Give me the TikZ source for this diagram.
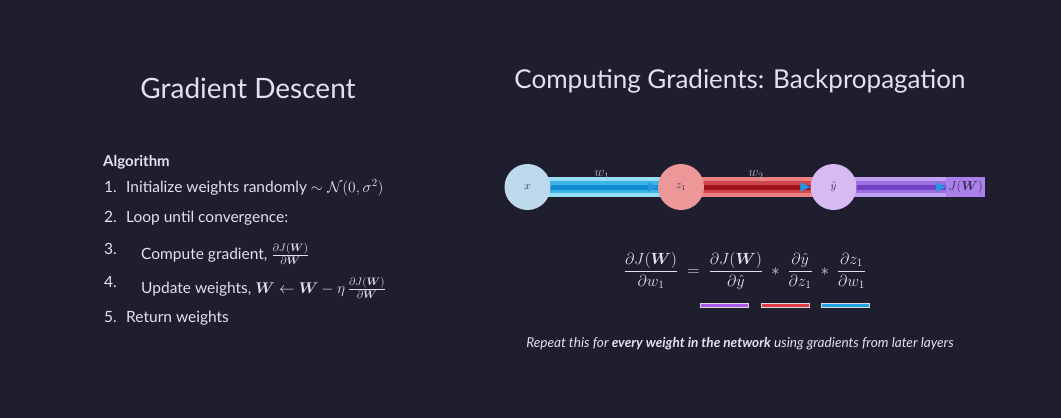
\RequirePackage{fix-cm}
\documentclass[tikz,border=0pt]{standalone}
\usepackage{amsmath,amssymb,bm}
\usepackage{fontspec}
\setmainfont{Lato}
\usetikzlibrary{arrows.meta}

\definecolor{bgnavy}{RGB}{30,30,46}
\definecolor{txtgray}{RGB}{226,226,236}
\definecolor{labgray}{RGB}{175,175,195}
\definecolor{inkdark}{RGB}{55,45,75}
\definecolor{xfill}{RGB}{190,216,236}
\definecolor{zfill}{RGB}{236,152,152}
\definecolor{yfill}{RGB}{216,186,242}
\definecolor{tipblue}{RGB}{40,150,230}
\definecolor{barpurple}{RGB}{170,90,230}
\definecolor{barred}{RGB}{225,60,70}
\definecolor{barblue}{RGB}{30,160,225}
% band tones: light edge, mid, dark core
\definecolor{blueedge}{RGB}{150,222,246}
\definecolor{bluemid}{RGB}{60,180,230}
\definecolor{bluecore}{RGB}{15,140,208}
\definecolor{rededge}{RGB}{236,128,128}
\definecolor{redmid}{RGB}{205,70,75}
\definecolor{redcore}{RGB}{160,18,30}
\definecolor{purpedge}{RGB}{192,160,242}
\definecolor{purpmid}{RGB}{155,110,225}
\definecolor{purpcore}{RGB}{115,65,198}
\definecolor{outfill}{RGB}{172,128,234}

\pgfdeclarelayer{background}
\pgfsetlayers{background,main}

\tikzset{
  neuron/.style={circle, minimum size=46pt, inner sep=0pt, text=inkdark, font=\fontsize{11}{13}\selectfont},
  title/.style={text=txtgray, font=\fontsize{26}{30}\selectfont},
  item/.style={anchor=base west, text=txtgray, inner sep=0pt, font=\fontsize{15.5}{18}\selectfont},
  wlabel/.style={text=labgray, font=\fontsize{14}{16}\selectfont},
  flow/.style={line width=1.2pt, -{Triangle[length=10pt, width=9pt, fill=tipblue, color=tipblue]}},
  ubar/.style={draw=white!85!black, line width=0.5pt}
}

% band between two points: #1 edge, #2 mid, #3 core
\newcommand{\band}[5]{%
  \fill[#1] ([yshift=-10pt]#4) rectangle ([yshift=10pt]#5);
  \fill[#2] ([yshift=-6pt]#4) rectangle ([yshift=6pt]#5);
  \fill[#3] ([yshift=-2.5pt]#4) rectangle ([yshift=2.5pt]#5);
}

\begin{document}
\begin{tikzpicture}[x=1pt, y=-1pt]
  \begin{pgfonlayer}{background}
    \fill[bgnavy] (0,0) rectangle (1061,418);
  \end{pgfonlayer}
  \useasboundingbox (0,0) rectangle (1061,418);

  % titles
  \node[title, font=\fontsize{28}{32}\selectfont] (gdtitle) at (248,88) {Gradient Descent};
  \node[title] (bptitle) at (740,81) {Computing Gradients: Backpropagation};

  % algorithm
  \node[item, font=\bfseries\fontsize{15}{18}\selectfont] (algo) at (103,166) {Algorithm};
  \node[item] (n1) at (104,192) {1.};
  \node[item] (t1) at (126,192) {Initialize weights randomly $\sim\mathcal{N}(0,\sigma^2)$};
  \node[item] (n2) at (104,222.5) {2.};
  \node[item] (t2) at (126,222.5) {Loop until convergence:};
  \node[item] (n3) at (104,254) {3.};
  \node[item] (t3) at (141,259) {Compute gradient, $\frac{\partial J(\bm{W})}{\partial \bm{W}}$};
  \node[item] (n4) at (104,287) {4.};
  \node[item] (t4) at (141,293) {Update weights, $\bm{W} \leftarrow \bm{W} - \eta\,\frac{\partial J(\bm{W})}{\partial \bm{W}}$};
  \node[item] (n5) at (104,322) {5.};
  \node[item] (t5) at (126,322) {Return weights};

  % network
  \node[neuron, fill=xfill] (x) at (527.5,187) {$x$};
  \node[neuron, fill=zfill] (z1) at (681,187) {$z_1$};
  \node[neuron, fill=yfill] (yhat) at (833.5,187) {$\hat{y}$};
  \node[anchor=east, fill=outfill, minimum height=20pt, inner sep=2pt, text=inkdark, font=\fontsize{13}{15}\selectfont] (out) at (985,187) {$J(\bm{W})$};

  \begin{pgfonlayer}{background}
    \band{blueedge}{bluemid}{bluecore}{x.center}{z1.center}
    \band{rededge}{redmid}{redcore}{z1.center}{yhat.center}
    \band{purpedge}{purpmid}{purpcore}{yhat.center}{out.west}
  \end{pgfonlayer}

  \draw[flow, color=bluecore] (x) -- (z1);
  \draw[flow, color=redcore] (z1) -- (yhat);
  \draw[flow, color=purpcore] (yhat) -- (out);

  \node[wlabel] (w1) at (602,175) {$w_1$};
  \node[wlabel] (w2) at (756,175) {$w_2$};

  % chain rule
  \node[text=txtgray, font=\fontsize{16.2}{19}\selectfont] (chain) at (745,271)
    {$\dfrac{\partial J(\bm{W})}{\partial w_1} \;=\; \dfrac{\partial J(\bm{W})}{\partial \hat{y}} \;*\; \dfrac{\partial \hat{y}}{\partial z_1} \;*\; \dfrac{\partial z_1}{\partial w_1}$};
  \filldraw[ubar, fill=barpurple] (700,303.5) rectangle (748,307.5);
  \filldraw[ubar, fill=barred] (761,303.5) rectangle (809,307.5);
  \filldraw[ubar, fill=barblue] (821,303.5) rectangle (869,307.5);

  % caption
  \node[text=txtgray, font=\itshape\fontsize{13.6}{16}\selectfont] (note) at (740,344)
    {Repeat this for \textbf{every weight in the network} using gradients from later layers};
\end{tikzpicture}
\end{document}
